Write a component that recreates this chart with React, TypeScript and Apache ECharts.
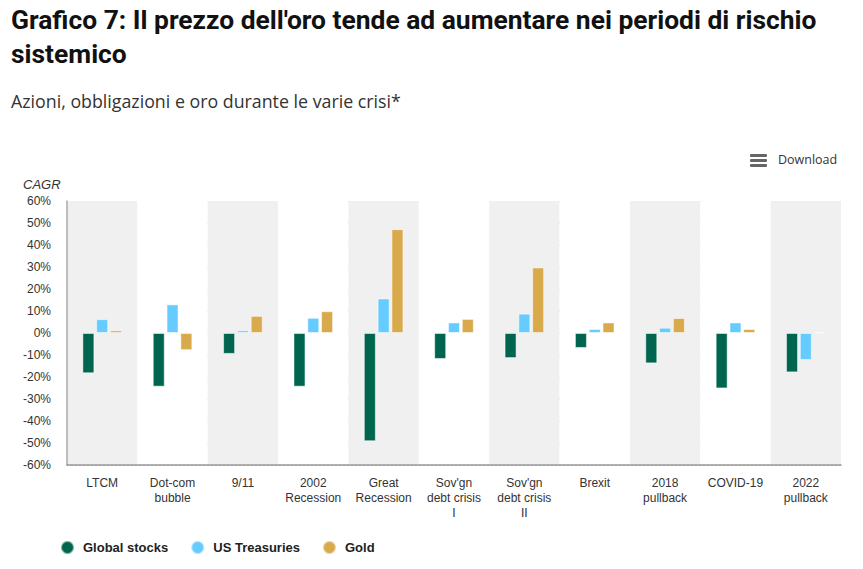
import React, { useEffect, useRef } from "react";
import * as echarts from "echarts";

const categories = [
  "LTCM",
  "Dot-com\nbubble",
  "9/11",
  "2002\nRecession",
  "Great\nRecession",
  "Sov'gn\ndebt crisis\nI",
  "Sov'gn\ndebt crisis\nII",
  "Brexit",
  "2018\npullback",
  "COVID-19",
  "2022\npullback",
];
const globalStocks = [-18.3, -24.4, -9.5, -24.4, -49.2, -11.8, -11.4, -6.8, -13.8, -25.2, -17.9];
const usTreasuries = [6.3, 13, 1.2, 6.9, 15.7, 4.8, 8.8, 1.8, 2.4, 4.8, -12.3];
const gold = [1.2, -7.8, 7.8, 9.9, 47.2, 6.4, 29.8, 4.8, 6.8, 1.8, 0.3];
const seriesNames = ["Global stocks", "US Treasuries", "Gold"];
const yTicks = { min: -60, max: 60, interval: 10 };

const titleLines = [
  "Grafico 7: Il prezzo dell'oro tende ad aumentare nei periodi di rischio",
  "sistemico",
];
const subtitle = "Azioni, obbligazioni e oro durante le varie crisi*";

const narrow = "'Liberation Sans Narrow', 'Arial Narrow', 'Liberation Sans', sans-serif";

export default function App() {
  const ref = useRef<HTMLDivElement>(null);
  useEffect(() => {
    if (!ref.current) return;
    const chart = echarts.init(ref.current, null, { renderer: "svg" });
    const colors = ["#00654f", "#66ccff", "#d9aa4c"];
    const mk = (name: string, data: number[], i: number) => ({
      name,
      type: "bar",
      data,
      barWidth: 12,
      barGap: "15%",
      itemStyle: { color: colors[i], borderColor: "rgba(255,255,255,0.5)", borderWidth: 1 },
    });
    chart.setOption({
      animation: false,
      backgroundColor: "#fff",
      grid: { left: 67, right: 22, top: 201, bottom: 104, containLabel: false },
      graphic: [
        {
          type: "text",
          left: 11,
          top: 3,
          style: {
            text: titleLines.join("\n"),
            font: "bold 26.4px Roboto, sans-serif",
            lineHeight: 34,
            fill: "#111",
          },
        },
        {
          type: "text",
          left: 11,
          top: 92,
          style: { text: subtitle, font: "17.8px 'Open Sans', sans-serif", fill: "#333" },
        },
        {
          type: "text",
          left: 23,
          top: 178,
          style: { text: "CAGR", font: `italic 13px ${narrow}`, fill: "#333" },
        },
        { type: "rect", shape: { x: 750, y: 154, width: 17, height: 3, r: 1 }, style: { fill: "#666" } },
        { type: "rect", shape: { x: 750, y: 159, width: 17, height: 3, r: 1 }, style: { fill: "#666" } },
        { type: "rect", shape: { x: 750, y: 164, width: 17, height: 3, r: 1 }, style: { fill: "#666" } },
        {
          type: "text",
          left: 778,
          top: 153,
          style: { text: "Download", font: "12.5px 'Open Sans', sans-serif", fill: "#333" },
        },
      ],
      legend: {
        left: 55,
        top: 535,
        icon: "circle",
        itemWidth: 13,
        itemHeight: 13,
        itemGap: 22,
        data: seriesNames,
        textStyle: {
          fontFamily: "'Liberation Sans', Arial, sans-serif",
          fontWeight: "bold",
          fontSize: 13,
          color: "#222",
          padding: [0, 0, 0, 4],
        },
      },
      xAxis: {
        type: "category",
        data: categories,
        axisLine: { onZero: false, lineStyle: { color: "#999", width: 1.5 } },
        axisTick: { show: false },
        axisLabel: {
          interval: 0,
          margin: 10,
          fontFamily: narrow,
          fontSize: 12,
          lineHeight: 15,
          color: "#333",
        },
        splitArea: { show: true, areaStyle: { color: ["#f0f0f0", "#ffffff"] } },
      },
      yAxis: {
        type: "value",
        min: yTicks.min,
        max: yTicks.max,
        interval: yTicks.interval,
        axisLine: { show: true, lineStyle: { color: "#aaa", width: 1.5 } },
        axisTick: { show: false },
        axisLabel: {
          formatter: "{value}%",
          margin: 16,
          fontFamily: narrow,
          fontSize: 12,
          color: "#333",
        },
        splitLine: { lineStyle: { color: "#bbb", type: [2, 2] } },
      },
      series: [mk(seriesNames[0], globalStocks, 0), mk(seriesNames[1], usTreasuries, 1), mk(seriesNames[2], gold, 2)],
    });
    return () => chart.dispose();
  }, []);
  return (
    <div
      ref={ref}
      style={{ position: "fixed", left: 0, top: 0, width: 863, height: 569, background: "#fff" }}
    />
  );
}
